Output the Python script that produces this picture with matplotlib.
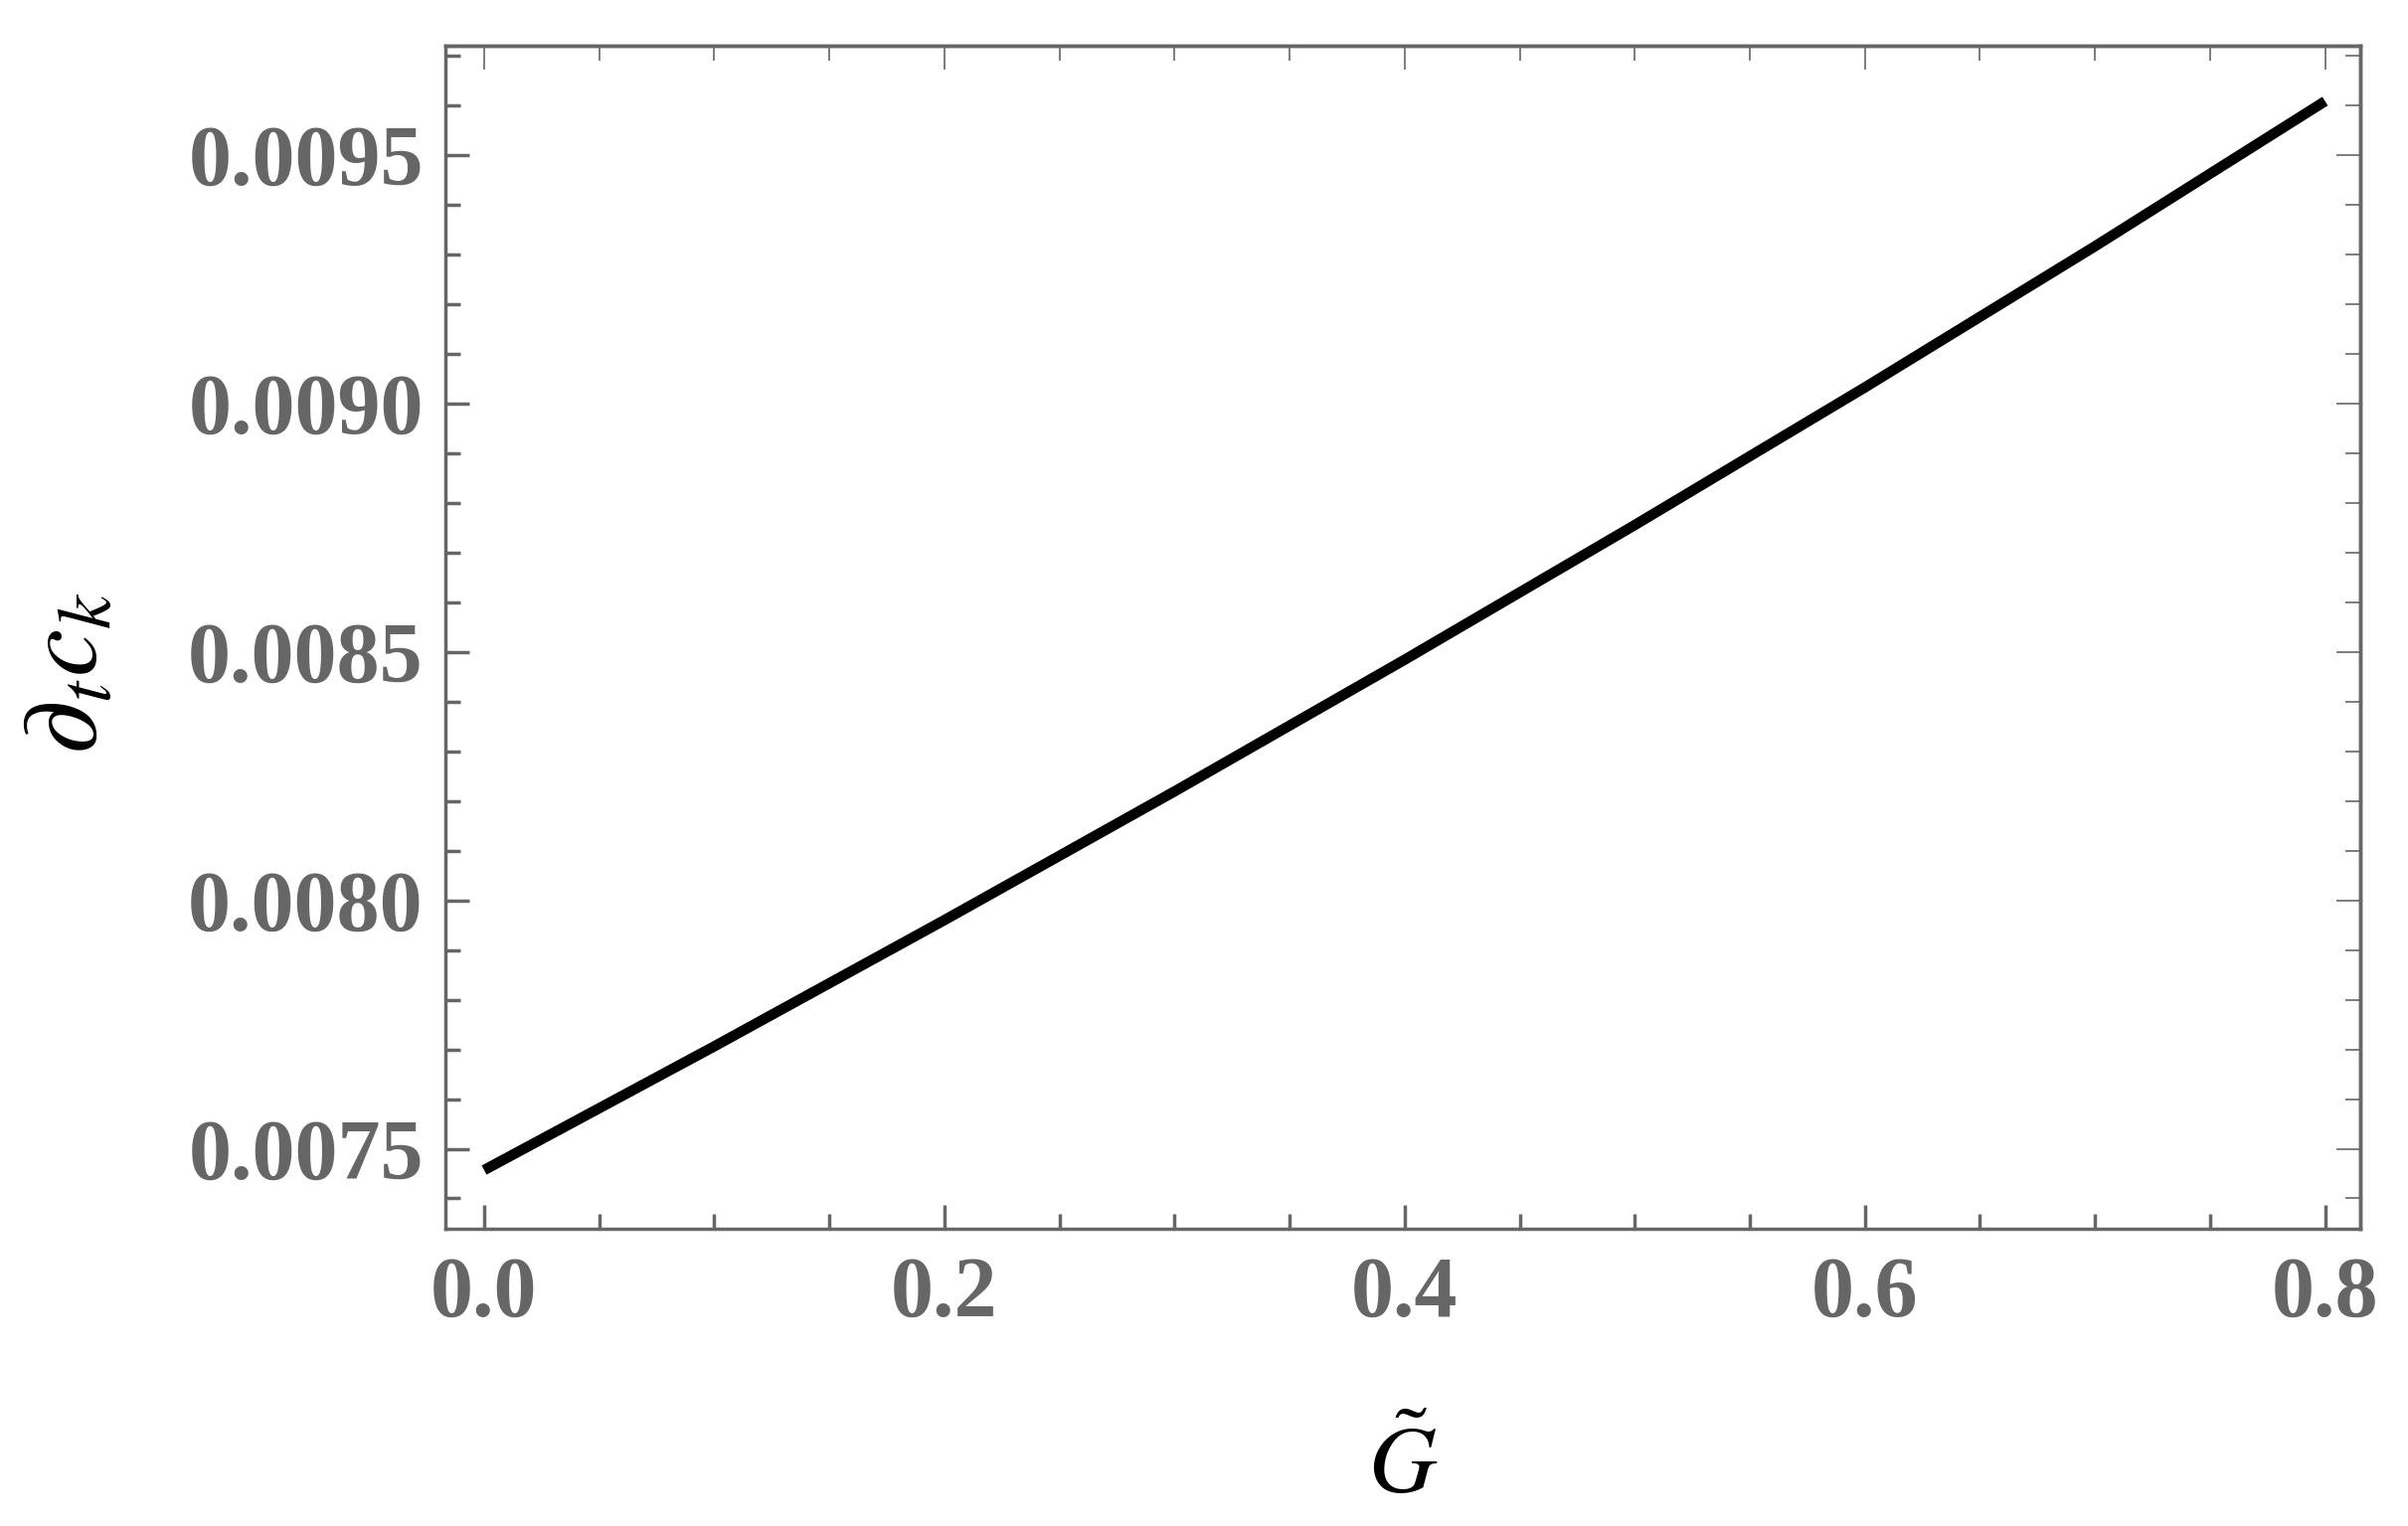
import numpy as np
import matplotlib
matplotlib.use("Agg")
import matplotlib.pyplot as plt
from matplotlib.ticker import MultipleLocator, FixedLocator

# values
g_tilde = [0.0, 0.1, 0.2, 0.3, 0.4, 0.5, 0.6, 0.7, 0.8]
dt_ck = [0.007457, 0.007706, 0.007960, 0.008219, 0.008484,
         0.008755, 0.009032, 0.009316, 0.009608]

x_ticks = [0.0, 0.2, 0.4, 0.6, 0.8]
x_ticklabels = ["0.0", "0.2", "0.4", "0.6", "0.8"]
y_ticks = [0.0075, 0.0080, 0.0085, 0.0090, 0.0095]
y_ticklabels = ["0.0075", "0.0080", "0.0085", "0.0090", "0.0095"]

gray = "#666666"
plt.rcParams["mathtext.fontset"] = "stix"

fig = plt.figure(figsize=(24.22, 15.35), dpi=100)
ax = fig.add_axes([0.185, 0.1948, 0.795, 0.7752])

ax.plot(g_tilde, dt_ck, color="black", lw=7.5, solid_capstyle="butt",
        solid_joinstyle="round")

ax.set_xlim(-0.0168, 0.8151)
ax.set_ylim(0.007339, 0.0097195)

ax.xaxis.set_major_locator(FixedLocator(x_ticks))
ax.xaxis.set_minor_locator(MultipleLocator(0.05))
ax.yaxis.set_major_locator(FixedLocator(y_ticks))
ax.yaxis.set_minor_locator(MultipleLocator(0.0001))
ax.set_xticklabels(x_ticklabels)
ax.set_yticklabels(y_ticklabels)

for sp in ax.spines.values():
    sp.set_color(gray)
    sp.set_linewidth(2.5)

ax.tick_params(which="both", direction="in", color=gray,
               labelcolor=gray, labelsize=62)
ax.tick_params(which="major", length=17, width=2.5)
ax.tick_params(which="minor", length=11, width=2.5)
ax.tick_params(axis="x", pad=20)
ax.tick_params(axis="y", pad=16)
for lab in ax.get_xticklabels() + ax.get_yticklabels():
    lab.set_family("Liberation Serif")
    lab.set_weight("bold")

# thin mirrored ticks on top and right
top = ax.secondary_xaxis("top")
top.xaxis.set_major_locator(FixedLocator(x_ticks))
top.xaxis.set_minor_locator(MultipleLocator(0.05))
top.tick_params(which="both", direction="in", color=gray, labeltop=False, width=1.2)
top.tick_params(which="major", length=17)
top.tick_params(which="minor", length=11)
top.spines["top"].set_color(gray)
top.spines["top"].set_linewidth(2.5)

right = ax.secondary_yaxis("right")
right.yaxis.set_major_locator(FixedLocator(y_ticks))
right.yaxis.set_minor_locator(MultipleLocator(0.0001))
right.tick_params(which="both", direction="in", color=gray, labelright=False, width=1.2)
right.tick_params(which="major", length=17)
right.tick_params(which="minor", length=11)
right.spines["right"].set_color(gray)
right.spines["right"].set_linewidth(2.5)

ax.set_xlabel(r"$\tilde{G}$", fontsize=68, color="black")
ax.xaxis.set_label_coords(0.5, -0.163)
ax.set_ylabel(r"$\partial_t c_k$", fontsize=78, color="black")
ax.yaxis.set_label_coords(-0.17, 0.47)

fig.savefig("out.png", dpi=100)
